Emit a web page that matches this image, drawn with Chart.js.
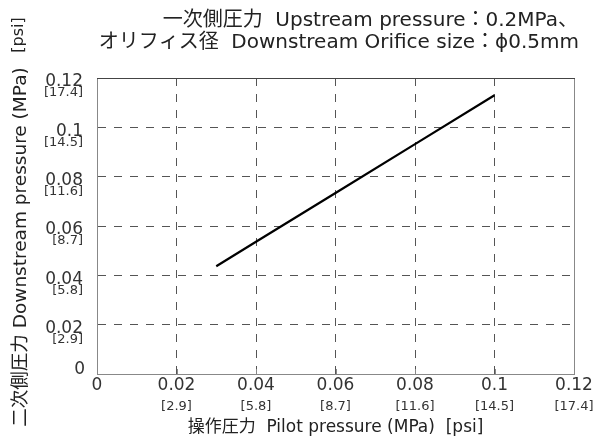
<!DOCTYPE html>
<html>
<head>
<meta charset="utf-8">
<script src="https://cdn.jsdelivr.net/npm/chart.js@4"></script>
<style>
  html, body { margin: 0; padding: 0; background: #ffffff; }
  #wrap { width: 598px; height: 439px; }
</style>
</head>
<body>
<div id="wrap"><canvas id="chart"></canvas></div>
<script>
// Data
const pilotMPa = [0.03, 0.04, 0.06, 0.08, 0.1];
const downstreamMPa = [0.0437, 0.0536, 0.0734, 0.0932, 0.113];

const tickValues = [0, 0.02, 0.04, 0.06, 0.08, 0.1, 0.12];
const tickMPa = ['0', '0.02', '0.04', '0.06', '0.08', '0.1', '0.12'];
const tickPsi = ['', '[2.9]', '[5.8]', '[8.7]', '[11.6]', '[14.5]', '[17.4]'];

const titleLines = [
    '一次側圧力  Upstream pressure：0.2MPa、',
    'オリフィス径  Downstream Orifice size：ϕ0.5mm'
];
const xTitle = '操作圧力  Pilot pressure (MPa)  [psi]';
const yTitle = '二次側圧力 Downstream pressure (MPa)';
const yUnit = '[psi]';

const FONT = '"DejaVu Sans", "Noto Sans CJK JP", sans-serif';

const gridColor = ctx => {
    const v = ctx.tick ? ctx.tick.value : null;
    return (v === 0 || Math.abs(v - 0.12) < 1e-9) ? 'rgba(0,0,0,0)' : '#555555';
};

// Draws tick labels, titles, frame and inner ticks
const labelsPlugin = {
    id: 'labels',
    afterDraw(chart) {
        const c = chart.ctx;
        const xs = chart.scales.x;
        const ys = chart.scales.y;
        const area = chart.chartArea;
        c.save();

        // frame
        c.strokeStyle = '#888888';
        c.lineWidth = 1;
        c.beginPath();
        c.moveTo(area.right + 0.5, area.top);
        c.lineTo(area.right + 0.5, area.bottom);
        c.stroke();
        c.strokeStyle = '#444444';
        c.beginPath();
        c.moveTo(area.left, area.top + 0.5);
        c.lineTo(area.right + 1, area.top + 0.5);
        c.stroke();

        // inner x ticks
        c.strokeStyle = '#888888';
        tickValues.forEach(v => {
            if (v === 0 || v === 0.12) return;
            const px = Math.round(xs.getPixelForValue(v)) + 0.5;
            c.beginPath();
            c.moveTo(px, area.bottom);
            c.lineTo(px, area.bottom - 5);
            c.stroke();
        });

        c.fillStyle = '#333333';
        // y tick labels
        c.textAlign = 'right';
        c.textBaseline = 'middle';
        tickValues.forEach((v, i) => {
            const py = ys.getPixelForValue(v);
            c.font = '17px ' + FONT;
            if (v === 0) {
                c.fillText(tickMPa[i], 85, py - 4);
            } else {
                c.fillText(tickMPa[i], 83, py + 4);
            }
            if (tickPsi[i]) {
                c.font = '13px ' + FONT;
                c.fillText(tickPsi[i], 83, py + 15);
            }
        });

        // x tick labels
        c.textAlign = 'center';
        tickValues.forEach((v, i) => {
            const px = xs.getPixelForValue(v);
            c.font = '17px ' + FONT;
            c.fillText(tickMPa[i], px, area.bottom + 12);
            if (tickPsi[i]) {
                c.font = '13px ' + FONT;
                c.fillText(tickPsi[i], px, area.bottom + 33);
            }
        });

        // axis titles
        c.fillStyle = '#222222';
        c.font = '17px ' + FONT;
        c.fillText(xTitle, (area.left + area.right) / 2, 428);

        c.save();
        c.translate(21, 247);
        c.rotate(-Math.PI / 2);
        c.font = '18.5px ' + FONT;
        c.fillText(yTitle, 0, 0);
        c.restore();
        c.save();
        c.translate(19, 35);
        c.rotate(-Math.PI / 2);
        c.font = '16px ' + FONT;
        c.fillText(yUnit, 0, 0);
        c.restore();

        // chart title
        c.textAlign = 'right';
        c.font = '20px ' + FONT;
        c.fillText(titleLines[0], 578, 21);
        c.fillText(titleLines[1], 579, 43);

        c.restore();
    }
};

new Chart(document.getElementById('chart').getContext('2d'), {
    type: 'scatter',
    data: {
        datasets: [{
            data: pilotMPa.map((x, i) => ({ x: x, y: downstreamMPa[i] })),
            showLine: true,
            borderColor: '#000000',
            borderWidth: 2.2,
            pointRadius: 0,
            tension: 0
        }]
    },
    options: {
        responsive: true,
        maintainAspectRatio: false,
        animation: false,
        layout: { padding: { left: 97, right: 24, top: 78, bottom: 65 } },
        plugins: {
            legend: { display: false },
            tooltip: { enabled: false }
        },
        scales: {
            x: {
                type: 'linear',
                min: 0,
                max: 0.12,
                afterBuildTicks: axis => { axis.ticks = tickValues.map(v => ({ value: v })); },
                ticks: { display: false },
                grid: { color: gridColor, lineWidth: 1, drawTicks: false },
                border: { display: true, color: '#888888', dash: [8, 8], width: 1 }
            },
            y: {
                type: 'linear',
                min: 0,
                max: 0.12,
                afterBuildTicks: axis => { axis.ticks = tickValues.map(v => ({ value: v })); },
                ticks: { display: false },
                grid: { color: gridColor, lineWidth: 1, drawTicks: false },
                border: { display: true, color: '#888888', dash: [8, 8], width: 1 }
            }
        }
    },
    plugins: [labelsPlugin]
});
</script>
</body>
</html>
